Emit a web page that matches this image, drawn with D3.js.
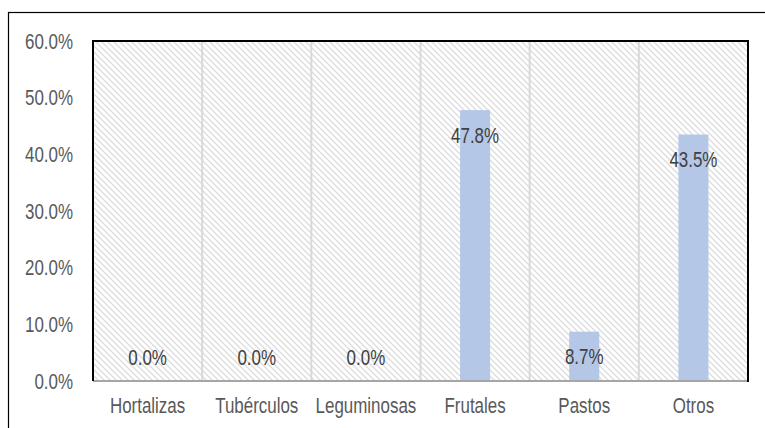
<!DOCTYPE html>
<html><head><meta charset="utf-8">
<script src="https://cdn.jsdelivr.net/npm/d3@7"></script>
<style>
html,body{margin:0;padding:0;background:#fff;}
svg{display:block;}
text{font-family:"Liberation Sans Narrow","Arial Narrow","Liberation Sans",Arial,sans-serif;fill:#595959;}
</style></head>
<body>
<svg id="chart" width="765" height="428"></svg>
<script>
const categories = ["Hortalizas","Tubérculos","Leguminosas","Frutales","Pastos","Otros"];
const values = [0.0, 0.0, 0.0, 47.8, 8.7, 43.5];
const yTicks = [0,10,20,30,40,50,60];

const m = {left:93, right:748, top:41, bottom:381};
const svg = d3.select("#chart");
const FS = "22px", SX = 0.77;

function condense(sel){
  sel.each(function(){
    const t = d3.select(this);
    const tx = +t.attr("x")||0, ty = +t.attr("y")||0;
    t.attr("transform",`translate(${tx},${ty}) scale(${SX},1) translate(${-tx},${-ty})`);
  });
}

// outer frame
svg.append("rect").attr("x",8.5).attr("y",12.5).attr("width",900).attr("height",600)
  .attr("fill","#fff").attr("stroke","#000").attr("stroke-width",1.2);

// hatch pattern
const defs = svg.append("defs");
const pat = defs.append("pattern").attr("id","hatch").attr("patternUnits","userSpaceOnUse")
  .attr("width",6).attr("height",6);
pat.append("rect").attr("width",6).attr("height",6).attr("fill","#fff");
pat.append("path").attr("d","M0,0L6,6M-1,5L1,7M5,-1L7,1")
  .attr("stroke","#dcdcdc").attr("stroke-width",1.3);

const x = d3.scaleBand().domain(categories).range([m.left,m.right]).padding(0);
const y = d3.scaleLinear().domain([0,60]).range([m.bottom,m.top]);

svg.append("rect").attr("x",m.left).attr("y",m.top)
  .attr("width",m.right-m.left).attr("height",m.bottom-m.top).attr("fill","url(#hatch)");

// vertical gridlines at category boundaries
svg.append("g").selectAll("line").data(categories.slice(1)).join("line")
  .attr("x1",d=>x(d)).attr("x2",d=>x(d)).attr("y1",m.top).attr("y2",m.bottom)
  .attr("stroke","#d9d9d9").attr("stroke-width",2);

// bars
const bw = x.bandwidth()*0.275;
svg.append("g").selectAll("rect").data(values).join("rect")
  .attr("x",(d,i)=>x(categories[i])+x.bandwidth()/2-bw/2)
  .attr("y",d=>y(d)).attr("width",bw).attr("height",d=>y(0)-y(d))
  .attr("fill","#b4c7e7");

// data labels
svg.append("g").selectAll("text").data(values).join("text")
  .attr("x",(d,i)=>x(categories[i])+x.bandwidth()/2)
  .attr("y",d=> d>0 ? y(d)+32.5 : y(0)-16)
  .attr("text-anchor","middle").style("font-size",FS).style("fill","#404040")
  .text(d=>d.toFixed(1)+"%")
  .call(condense);

// plot border
svg.append("line").attr("x1",m.left).attr("x2",m.right).attr("y1",m.bottom).attr("y2",m.bottom)
  .attr("stroke","#a6a6a6").attr("stroke-width",2);
svg.append("path").attr("d",`M${m.left},${m.bottom}V${m.top}H${m.right}V${m.bottom+1}`)
  .attr("fill","none").attr("stroke","#000").attr("stroke-width",2);

// y axis labels
const yAxis = d3.axisLeft(y).tickValues(yTicks).tickSize(0).tickPadding(20)
  .tickFormat(d=>d.toFixed(1)+"%");
const gy = svg.append("g").attr("transform",`translate(${m.left},0)`).call(yAxis);
gy.select(".domain").remove();
gy.selectAll("text").style("font-size",FS).style("font-family",null).attr("fill",null).call(condense);

// x axis labels
const xAxis = d3.axisBottom(x).tickSize(0).tickPadding(16);
const gx = svg.append("g").attr("transform",`translate(0,${m.bottom})`).call(xAxis);
gx.select(".domain").remove();
gx.selectAll("text").style("font-size",FS).style("font-family",null).attr("fill",null).call(condense);
</script>
</body></html>
